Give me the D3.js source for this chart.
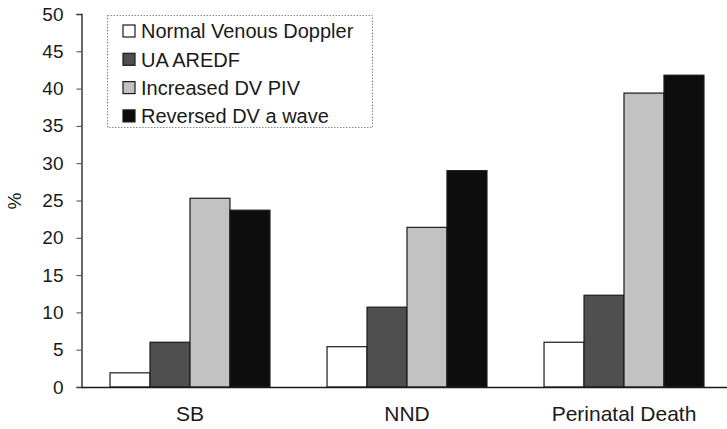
<!DOCTYPE html>
<html>
<head>
<meta charset="utf-8">
<script src="https://cdn.jsdelivr.net/npm/d3@7"></script>
<style>
  html, body { margin: 0; padding: 0; background: #fff; }
  svg { display: block; font-family: "Liberation Sans", Arial, Helvetica, sans-serif; }
</style>
</head>
<body>
<svg id="chart" width="727" height="429"></svg>
<script>
const categories = ["SB", "NND", "Perinatal Death"];
const seriesNames = ["Normal Venous Doppler", "UA AREDF", "Increased DV PIV", "Reversed DV a wave"];
const normalVenous = [1.9, 5.4, 6.0];
const uaAredf = [6.0, 10.7, 12.3];
const increasedDvPiv = [25.3, 21.4, 39.4];
const reversedDvAWave = [23.7, 29.0, 41.8];
const yTicks = [0, 5, 10, 15, 20, 25, 30, 35, 40, 45, 50];
const seriesColors = ["#ffffff", "#4f4f4f", "#c2c2c2", "#0d0d0d"];

const seriesValues = [normalVenous, uaAredf, increasedDvPiv, reversedDvAWave];

const svg = d3.select("#chart");
const plot = { left: 81.5, right: 732.5, top: 14, bottom: 387 };

const y = d3.scaleLinear().domain([0, 50]).range([plot.bottom, plot.top]);
const x0 = d3.scaleBand().domain(categories).range([plot.left, plot.right])
  .paddingInner(0.263).paddingOuter(0.1315);
const x1 = d3.scaleBand().domain(seriesNames).range([0, x0.bandwidth()]);

// bars
const groups = svg.append("g").selectAll("g")
  .data(categories)
  .join("g")
  .attr("transform", d => `translate(${x0(d)},0)`);

groups.selectAll("rect")
  .data((c, ci) => seriesNames.map((s, si) => ({ s, si, v: seriesValues[si][ci] })))
  .join("rect")
  .attr("x", d => x1(d.s))
  .attr("y", d => y(d.v))
  .attr("width", x1.bandwidth())
  .attr("height", d => y(0) - y(d.v))
  .attr("fill", d => seriesColors[d.si])
  .attr("stroke", "#1a1a1a")
  .attr("stroke-width", 1.2);

// y axis
const yAxis = d3.axisLeft(y).tickValues(yTicks).tickSize(5).tickPadding(13);
const gy = svg.append("g").attr("transform", `translate(${plot.left},0)`).call(yAxis);
gy.select(".domain").attr("stroke", "#1a1a1a").attr("stroke-width", 1.3);
gy.selectAll(".tick line").attr("stroke", "#444");
gy.selectAll(".tick text").attr("font-size", 19).attr("fill", "#1a1a1a")
  .attr("font-family", "Liberation Sans, Arial, sans-serif");

// x baseline and category labels
const xAxis = d3.axisBottom(x0).tickSize(0).tickPadding(19);
const gx = svg.append("g").attr("transform", `translate(0,${plot.bottom})`).call(xAxis);
gx.select(".domain").attr("stroke", "#1a1a1a").attr("stroke-width", 1.6);
gx.selectAll(".tick text").attr("font-size", 21).attr("fill", "#1a1a1a")
  .attr("font-family", "Liberation Sans, Arial, sans-serif");

// y axis title
svg.append("text")
  .attr("transform", "translate(21,201) rotate(-90)")
  .attr("text-anchor", "middle")
  .attr("font-size", 19)
  .attr("fill", "#1a1a1a")
  .text("%");

// legend
const legend = svg.append("g");
legend.append("rect")
  .attr("x", 107.5).attr("y", 15.5).attr("width", 265).attr("height", 112)
  .attr("fill", "#fff").attr("stroke", "#888").attr("stroke-width", 1)
  .attr("stroke-dasharray", "1.5,1.5");

const items = legend.selectAll("g.item")
  .data(seriesNames)
  .join("g")
  .attr("class", "item")
  .attr("transform", (d, i) => `translate(123,${31 + i * 28.3})`);

items.append("rect")
  .attr("x", 0).attr("y", -6).attr("width", 12).attr("height", 12)
  .attr("fill", (d, i) => seriesColors[i])
  .attr("stroke", "#1a1a1a").attr("stroke-width", 1.2);

items.append("text")
  .attr("x", 18).attr("dy", "0.36em")
  .attr("font-size", 20)
  .attr("fill", "#1a1a1a")
  .text(d => d);
</script>
</body>
</html>
